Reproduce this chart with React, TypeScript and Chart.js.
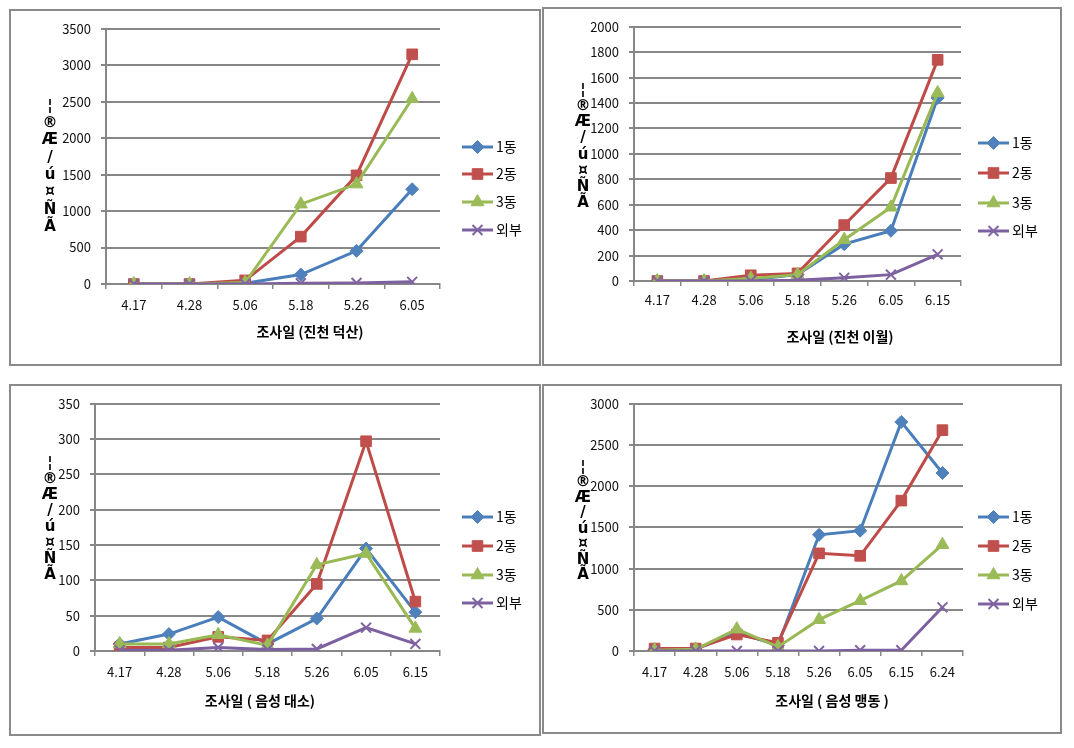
import React, { useEffect, useRef } from 'react';
import { Chart, registerables } from 'chart.js';
import { drawPoint } from 'chart.js/helpers';

Chart.register(...registerables);

// ---------- data ----------
const SERIES_NAMES = ['1동', '2동', '3동', '외부'];

const DATES_DEOKSAN = ['4.17', '4.28', '5.06', '5.18', '5.26', '6.05'];
const DATES_IWOL = ['4.17', '4.28', '5.06', '5.18', '5.26', '6.05', '6.15'];
const DATES_DAESO = ['4.17', '4.28', '5.06', '5.18', '5.26', '6.05', '6.15'];
const DATES_MAENGDONG = ['4.17', '4.28', '5.06', '5.18', '5.26', '6.05', '6.15', '6.24'];

const DEOKSAN_1 = [0, 0, 10, 130, 455, 1300];
const DEOKSAN_2 = [0, 0, 50, 650, 1490, 3150];
const DEOKSAN_3 = [0, 0, 20, 1095, 1370, 2540];
const DEOKSAN_OUT = [0, 0, 0, 10, 15, 30];

const IWOL_1 = [0, 0, 10, 50, 290, 395, 1440];
const IWOL_2 = [0, 0, 45, 60, 440, 810, 1740];
const IWOL_3 = [0, 0, 20, 50, 325, 580, 1480];
const IWOL_OUT = [0, 0, 0, 5, 25, 50, 210];

const DAESO_1 = [10, 24, 48, 10, 46, 145, 55];
const DAESO_2 = [5, 5, 20, 15, 95, 297, 70];
const DAESO_3 = [10, 10, 23, 8, 122, 138, 32];
const DAESO_OUT = [1, 1, 5, 2, 3, 33, 10];

const MAENGDONG_1 = [20, 20, 220, 70, 1410, 1460, 2780, 2160];
const MAENGDONG_2 = [30, 30, 200, 100, 1185, 1155, 1825, 2680];
const MAENGDONG_3 = [10, 20, 265, 50, 380, 610, 850, 1290];
const MAENGDONG_OUT = [0, 0, 0, 0, 0, 10, 10, 530];

const Y_MAX = [3500, 2000, 350, 3000];
const Y_STEP = [500, 200, 50, 500];

const X_TITLES = ['조사일 (진천 덕산)', '조사일 (진천 이월)', '조사일 ( 음성 대소)', '조사일 ( 음성 맹동 )'];
const Y_TITLE_GLYPHS = ['¦', '®', 'Æ', '/', 'ú', '¤', 'Ñ', 'Ã'];

// ---------- styles ----------
const LINE_COLORS = ['#4A7EBB', '#BE4B48', '#98B954', '#7D60A0'];
const MARKER_COLORS = ['#4F81BD', '#C0504D', '#9BBB59', '#8064A2'];
const POINT_STYLES = ['rectRot', 'rect', 'triangle', 'crossRot'];
const POINT_RADII = [6.5, 7.5, 7.5, 7];
const POINT_BORDER = [1, 1, 1, 2];
const GRID = '#878787';
const FONT = '"Noto Sans CJK KR", "Noto Sans", sans-serif';

type Rect = { x: number; y: number; w: number; h: number };
type Plot = { l: number; t: number; r: number; b: number };
type PanelCfg = {
  box: Rect;
  plot: Plot;
  labels: string[];
  series: number[][];
  yMax: number;
  yStep: number;
  xTitle: string;
  xTitlePos: [number, number];
  yTitle: { x: number; y0: number; dy: number };
  legend: { x0: number; x1: number; tx: number; ys: number[] };
  xLabelGap: number;
};

const PANELS: PanelCfg[] = [
  {
    box: { x: 9, y: 9, w: 532, h: 357 },
    plot: { l: 106, t: 28, r: 440, b: 284 },
    labels: DATES_DEOKSAN,
    series: [DEOKSAN_1, DEOKSAN_2, DEOKSAN_3, DEOKSAN_OUT],
    yMax: Y_MAX[0],
    yStep: Y_STEP[0],
    xTitle: X_TITLES[0],
    xTitlePos: [310, 332],
    yTitle: { x: 50, y0: 106, dy: 17.3 },
    legend: { x0: 462, x1: 493, tx: 496, ys: [147, 174, 202, 230] },
    xLabelGap: 8,
  },
  {
    box: { x: 542, y: 7, w: 520, h: 359 },
    plot: { l: 634, t: 25, r: 961, b: 281 },
    labels: DATES_IWOL,
    series: [IWOL_1, IWOL_2, IWOL_3, IWOL_OUT],
    yMax: Y_MAX[1],
    yStep: Y_STEP[1],
    xTitle: X_TITLES[1],
    xTitlePos: [840, 337],
    yTitle: { x: 583, y0: 90, dy: 16.2 },
    legend: { x0: 978, x1: 1009, tx: 1012, ys: [143, 173, 203, 231] },
    xLabelGap: 6,
  },
  {
    box: { x: 9, y: 384, w: 532, h: 352 },
    plot: { l: 95, t: 403, r: 440, b: 651 },
    labels: DATES_DAESO,
    series: [DAESO_1, DAESO_2, DAESO_3, DAESO_OUT],
    yMax: Y_MAX[2],
    yStep: Y_STEP[2],
    xTitle: X_TITLES[2],
    xTitlePos: [260, 701],
    yTitle: { x: 50, y0: 463, dy: 16 },
    legend: { x0: 462, x1: 493, tx: 496, ys: [517, 546, 575, 603] },
    xLabelGap: 8,
  },
  {
    box: { x: 542, y: 384, w: 520, h: 350 },
    plot: { l: 634, t: 403, r: 963, b: 651 },
    labels: DATES_MAENGDONG,
    series: [MAENGDONG_1, MAENGDONG_2, MAENGDONG_3, MAENGDONG_OUT],
    yMax: Y_MAX[3],
    yStep: Y_STEP[3],
    xTitle: X_TITLES[3],
    xTitlePos: [832, 701],
    yTitle: { x: 583, y0: 467, dy: 15.5 },
    legend: { x0: 978, x1: 1009, tx: 1012, ys: [517, 546, 575, 604] },
    xLabelGap: 8,
  },
];

const BORDER = 2;
const Y_SCALE_W = 60;
const X_SCALE_H = 40;

function Panel({ cfg }: { cfg: PanelCfg }) {
  const ref = useRef<HTMLCanvasElement | null>(null);
  const cx = cfg.box.x + BORDER;
  const cy = cfg.box.y + BORDER;
  const W = cfg.box.w - 2 * BORDER;
  const H = cfg.box.h - 2 * BORDER;

  useEffect(() => {
    if (!ref.current) return;
    const deco = {
      id: 'deco',
      afterDraw(chart: any) {
        const ctx: CanvasRenderingContext2D = chart.ctx;
        ctx.save();
        // x title
        ctx.fillStyle = '#000';
        ctx.font = `bold 14px ${FONT}`;
        ctx.textAlign = 'center';
        ctx.textBaseline = 'middle';
        ctx.fillText(cfg.xTitle, cfg.xTitlePos[0] - cx, cfg.xTitlePos[1] - cy);
        // y title (garbled, stacked)
        ctx.font = `bold 15px "DejaVu Sans", sans-serif`;
        Y_TITLE_GLYPHS.forEach((g, i) => {
          ctx.fillText(g, cfg.yTitle.x - cx, cfg.yTitle.y0 + i * cfg.yTitle.dy - cy);
        });
        // legend
        SERIES_NAMES.forEach((name, i) => {
          const y = cfg.legend.ys[i] - cy;
          const x0 = cfg.legend.x0 - cx;
          const x1 = cfg.legend.x1 - cx;
          ctx.strokeStyle = LINE_COLORS[i];
          ctx.lineWidth = 3;
          ctx.beginPath();
          ctx.moveTo(x0, y);
          ctx.lineTo(x1, y);
          ctx.stroke();
          ctx.fillStyle = MARKER_COLORS[i];
          ctx.strokeStyle = MARKER_COLORS[i];
          ctx.lineWidth = POINT_BORDER[i];
          drawPoint(ctx, {
            pointStyle: POINT_STYLES[i] as any,
            radius: POINT_RADII[i],
            rotation: 0,
            borderWidth: POINT_BORDER[i],
          } as any, (x0 + x1) / 2, y);
          ctx.fillStyle = '#000';
          ctx.font = `14px ${FONT}`;
          ctx.textAlign = 'left';
          ctx.textBaseline = 'middle';
          ctx.fillText(name, cfg.legend.tx - cx, y);
        });
        ctx.restore();
      },
    };

    const chart = new Chart(ref.current, {
      type: 'line',
      data: {
        labels: cfg.labels,
        datasets: cfg.series.map((s, i) => ({
          label: SERIES_NAMES[i],
          data: s,
          borderColor: LINE_COLORS[i],
          backgroundColor: MARKER_COLORS[i],
          pointBackgroundColor: MARKER_COLORS[i],
          pointBorderColor: MARKER_COLORS[i],
          borderWidth: 3,
          pointStyle: POINT_STYLES[i] as any,
          pointRadius: POINT_RADII[i],
          pointBorderWidth: POINT_BORDER[i],
          tension: 0,
          fill: false,
          order: 3 - i,
        })),
      },
      options: {
        responsive: false,
        animation: false,
        devicePixelRatio: 1,
        layout: {
          padding: {
            left: cfg.plot.l - cx - Y_SCALE_W,
            top: cfg.plot.t - cy,
            right: cx + W - cfg.plot.r,
            bottom: cy + H - cfg.plot.b - X_SCALE_H,
          },
        },
        plugins: {
          legend: { display: false },
          tooltip: { enabled: false },
          title: { display: false },
        },
        scales: {
          x: {
            type: 'category',
            offset: true,
            afterFit: (scale: any) => {
              scale.height = X_SCALE_H;
            },
            grid: {
              display: true,
              drawOnChartArea: false,
              drawTicks: true,
              tickLength: 5,
              color: GRID,
              lineWidth: 1.5,
              offset: true,
            },
            border: { display: true, color: GRID, width: 2 },
            ticks: {
              color: '#111',
              font: { family: FONT, size: 13 },
              padding: cfg.xLabelGap,
              maxRotation: 0,
              autoSkip: false,
            },
          },
          y: {
            min: 0,
            max: cfg.yMax,
            afterFit: (scale: any) => {
              scale.width = Y_SCALE_W;
            },
            grid: {
              color: GRID,
              lineWidth: 2,
              drawTicks: true,
              tickLength: 5,
            },
            border: { display: true, color: GRID, width: 2 },
            ticks: {
              stepSize: cfg.yStep,
              color: '#111',
              font: { family: FONT, size: 13 },
              padding: 10,
              callback: (v: any) => String(v),
            },
          },
        },
      },
      plugins: [deco],
    });
    return () => chart.destroy();
  }, [cfg]);

  return (
    <div
      style={{
        position: 'absolute',
        left: cfg.box.x,
        top: cfg.box.y,
        width: cfg.box.w,
        height: cfg.box.h,
        boxSizing: 'border-box',
        border: `${BORDER}px solid #8a8a8a`,
        background: '#fff',
      }}
    >
      <canvas
        ref={ref}
        width={W}
        height={H}
        style={{ position: 'absolute', left: 0, top: 0, width: W, height: H }}
      />
    </div>
  );
}

export default function App() {
  return (
    <div
      style={{
        position: 'fixed',
        left: 0,
        top: 0,
        width: 1074,
        height: 748,
        background: '#fff',
        overflow: 'hidden',
      }}
    >
      {PANELS.map((p, i) => (
        <Panel key={i} cfg={p} />
      ))}
    </div>
  );
}
